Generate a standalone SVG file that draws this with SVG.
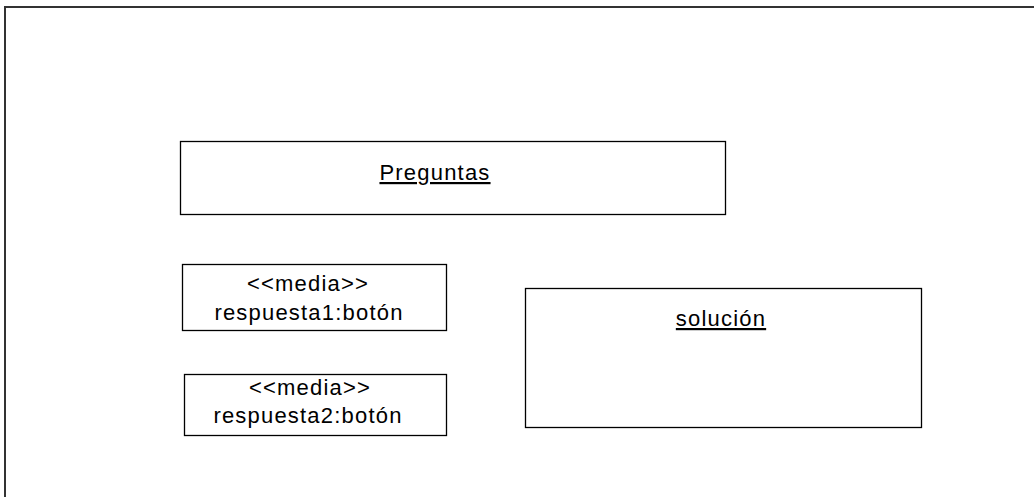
<svg xmlns="http://www.w3.org/2000/svg" width="1034" height="497" viewBox="0 0 1034 497">
<style>
.box{fill:#fff;stroke:#000;stroke-width:1.3}
.frame{fill:none;stroke:#333;stroke-width:2}
text{font-family:"Liberation Sans",Arial,sans-serif;font-size:22px;fill:#000;text-anchor:middle;letter-spacing:1.2px}
.u{text-decoration:underline}
</style>
<rect width="1034" height="497" fill="#fff"/>
<g id="frame">
<polyline class="frame" points="5,497 5,7 1034,7"/>
</g>
<g id="preguntas">
<rect class="box" x="180.5" y="141.5" width="545" height="73"/>
<text class="u" x="435" y="180">Preguntas</text>
</g>
<g id="respuesta1">
<rect class="box" x="182.5" y="264.5" width="264" height="66"/>
<text x="308" y="291">&lt;&lt;media&gt;&gt;</text>
<text x="309" y="320">respuesta1:botón</text>
</g>
<g id="respuesta2">
<rect class="box" x="184.5" y="374.5" width="262" height="61"/>
<text x="310" y="395">&lt;&lt;media&gt;&gt;</text>
<text x="308" y="423">respuesta2:botón</text>
</g>
<g id="solucion">
<rect class="box" x="525.5" y="288.5" width="396" height="139"/>
<text class="u" x="721" y="326">solución</text>
</g>
<g id="connectors"></g>
</svg>
